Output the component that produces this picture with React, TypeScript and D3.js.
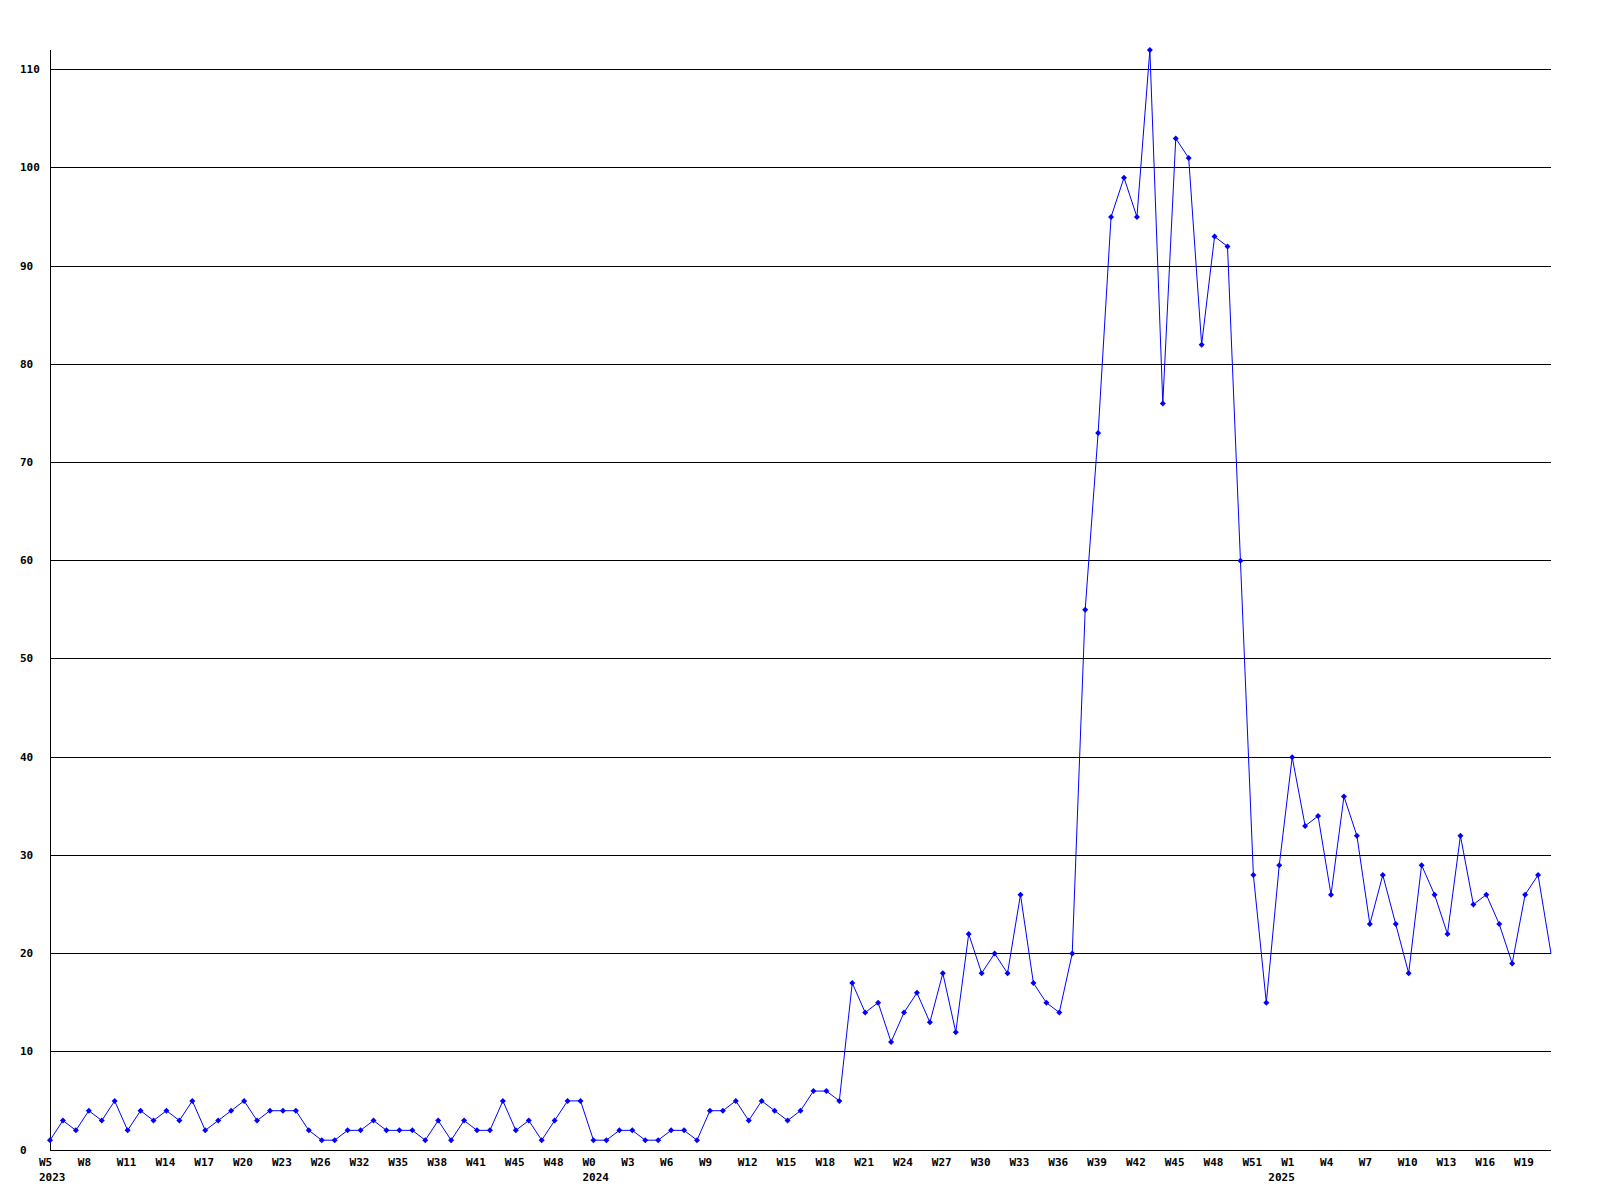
import React from "react";
import * as d3 from "d3";

// Week numbers per year (each data point is one week)
const weeks2023 = [5, 6, 7, 8, 9, 10, 11, 12, 13, 14, 15, 16, 17, 18, 19, 20, 21, 22, 23, 24, 25, 26, 28, 30, 32, 33, 34, 35, 36, 37, 38, 39, 40, 41, 43, 44, 45, 46, 47, 48, 50, 51];
const weeks2024 = [0, 1, 2, 3, 4, 5, 6, 7, 8, 9, 10, 11, 12, 13, 14, 15, 16, 17, 18, 19, 20, 21, 22, 23, 24, 25, 26, 27, 28, 29, 30, 31, 32, 33, 34, 35, 36, 37, 38, 39, 40, 41, 42, 43, 44, 45, 46, 47, 48, 49, 50, 51, 52];
const weeks2025 = [0, 1, 2, 3, 4, 5, 6, 7, 8, 9, 10, 11, 12, 13, 14, 15, 16, 17, 18, 19, 20, 21];

const values2023 = [1, 3, 2, 4, 3, 5, 2, 4, 3, 4, 3, 5, 2, 3, 4, 5, 3, 4, 4, 4, 2, 1, 1, 2, 2, 3, 2, 2, 2, 1, 3, 1, 3, 2, 2, 5, 2, 3, 1, 3, 5, 5];
const values2024 = [1, 1, 2, 2, 1, 1, 2, 2, 1, 4, 4, 5, 3, 5, 4, 3, 4, 6, 6, 5, 17, 14, 15, 11, 14, 16, 13, 18, 12, 22, 18, 20, 18, 26, 17, 15, 14, 20, 55, 73, 95, 99, 95, 112, 76, 103, 101, 82, 93, 92, 60, 28, 15];
const values2025 = [29, 40, 33, 34, 26, 36, 32, 23, 28, 23, 18, 29, 26, 22, 32, 25, 26, 23, 19, 26, 28, 20];

const yTicks = [0, 10, 20, 30, 40, 50, 60, 70, 80, 90, 100, 110];

type Pt = { year: number; week: number; value: number; firstOfYear: boolean };

const points: Pt[] = [
  ...weeks2023.map((w, i) => ({ year: 2023, week: w, value: values2023[i], firstOfYear: i === 0 })),
  ...weeks2024.map((w, i) => ({ year: 2024, week: w, value: values2024[i], firstOfYear: i === 0 })),
  ...weeks2025.map((w, i) => ({ year: 2025, week: w, value: values2025[i], firstOfYear: i === 0 })),
];

const W = 1600;
const H = 1200;
const left = 50;
const right = 1551;
const top = 50;
const bottom = 1150;

export default function App() {
  const ids = points.map((_, i) => String(i));
  const x = d3.scalePoint<string>().domain(ids).range([left, right]);
  const yMax = d3.max(points, (p) => p.value) as number;
  const y = d3.scaleLinear().domain([0, yMax]).range([bottom, top]);

  const line = d3
    .line<Pt>()
    .x((_, i) => x(String(i)) as number)
    .y((p) => y(p.value));

  const font = "'DejaVu Sans Mono', 'Liberation Mono', monospace";
  const diamond = (cx: number, cy: number) =>
    `M${cx},${cy - 3}L${cx + 3},${cy}L${cx},${cy + 3}L${cx - 3},${cy}Z`;

  return (
    <div style={{ position: "absolute", left: 0, top: 0 }}>
      <svg width={W} height={H} style={{ display: "block", background: "#fff" }}>
        <rect x={0} y={0} width={W} height={H} fill="#fff" />
        {yTicks.map((t) => (
          <g key={t}>
            {t > 0 && (
              <line x1={left} x2={right} y1={Math.floor(y(t)) + 0.5} y2={Math.floor(y(t)) + 0.5} stroke="#000" strokeWidth={1} />
            )}
            <text x={20} y={Math.floor(y(t)) + 4} fontFamily={font} fontWeight="bold" fontSize={11} fill="#000">
              {t}
            </text>
          </g>
        ))}
        <line x1={left + 0.5} x2={left + 0.5} y1={top} y2={bottom} stroke="#000" strokeWidth={1} />
        <line x1={left} x2={right} y1={bottom + 0.5} y2={bottom + 0.5} stroke="#000" strokeWidth={1} />

        <path d={line(points) || ""} fill="none" stroke="#0000ff" strokeWidth={1} />
        {points.map((p, i) =>
          i < points.length - 1 ? (
            <path key={i} d={diamond(x(String(i)) as number, y(p.value))} fill="#0000ff" />
          ) : null
        )}

        {points.map((p, i) => (
          <g key={"l" + i}>
            {i % 3 === 0 && (
              <text x={(x(String(i)) as number) - 11} y={1166} fontFamily={font} fontWeight="bold" fontSize={11} fill="#000">
                {"W" + p.week}
              </text>
            )}
            {p.firstOfYear && (
              <text x={(x(String(i)) as number) - 11} y={1181} fontFamily={font} fontWeight="bold" fontSize={11} fill="#000">
                {p.year}
              </text>
            )}
          </g>
        ))}
      </svg>
    </div>
  );
}
